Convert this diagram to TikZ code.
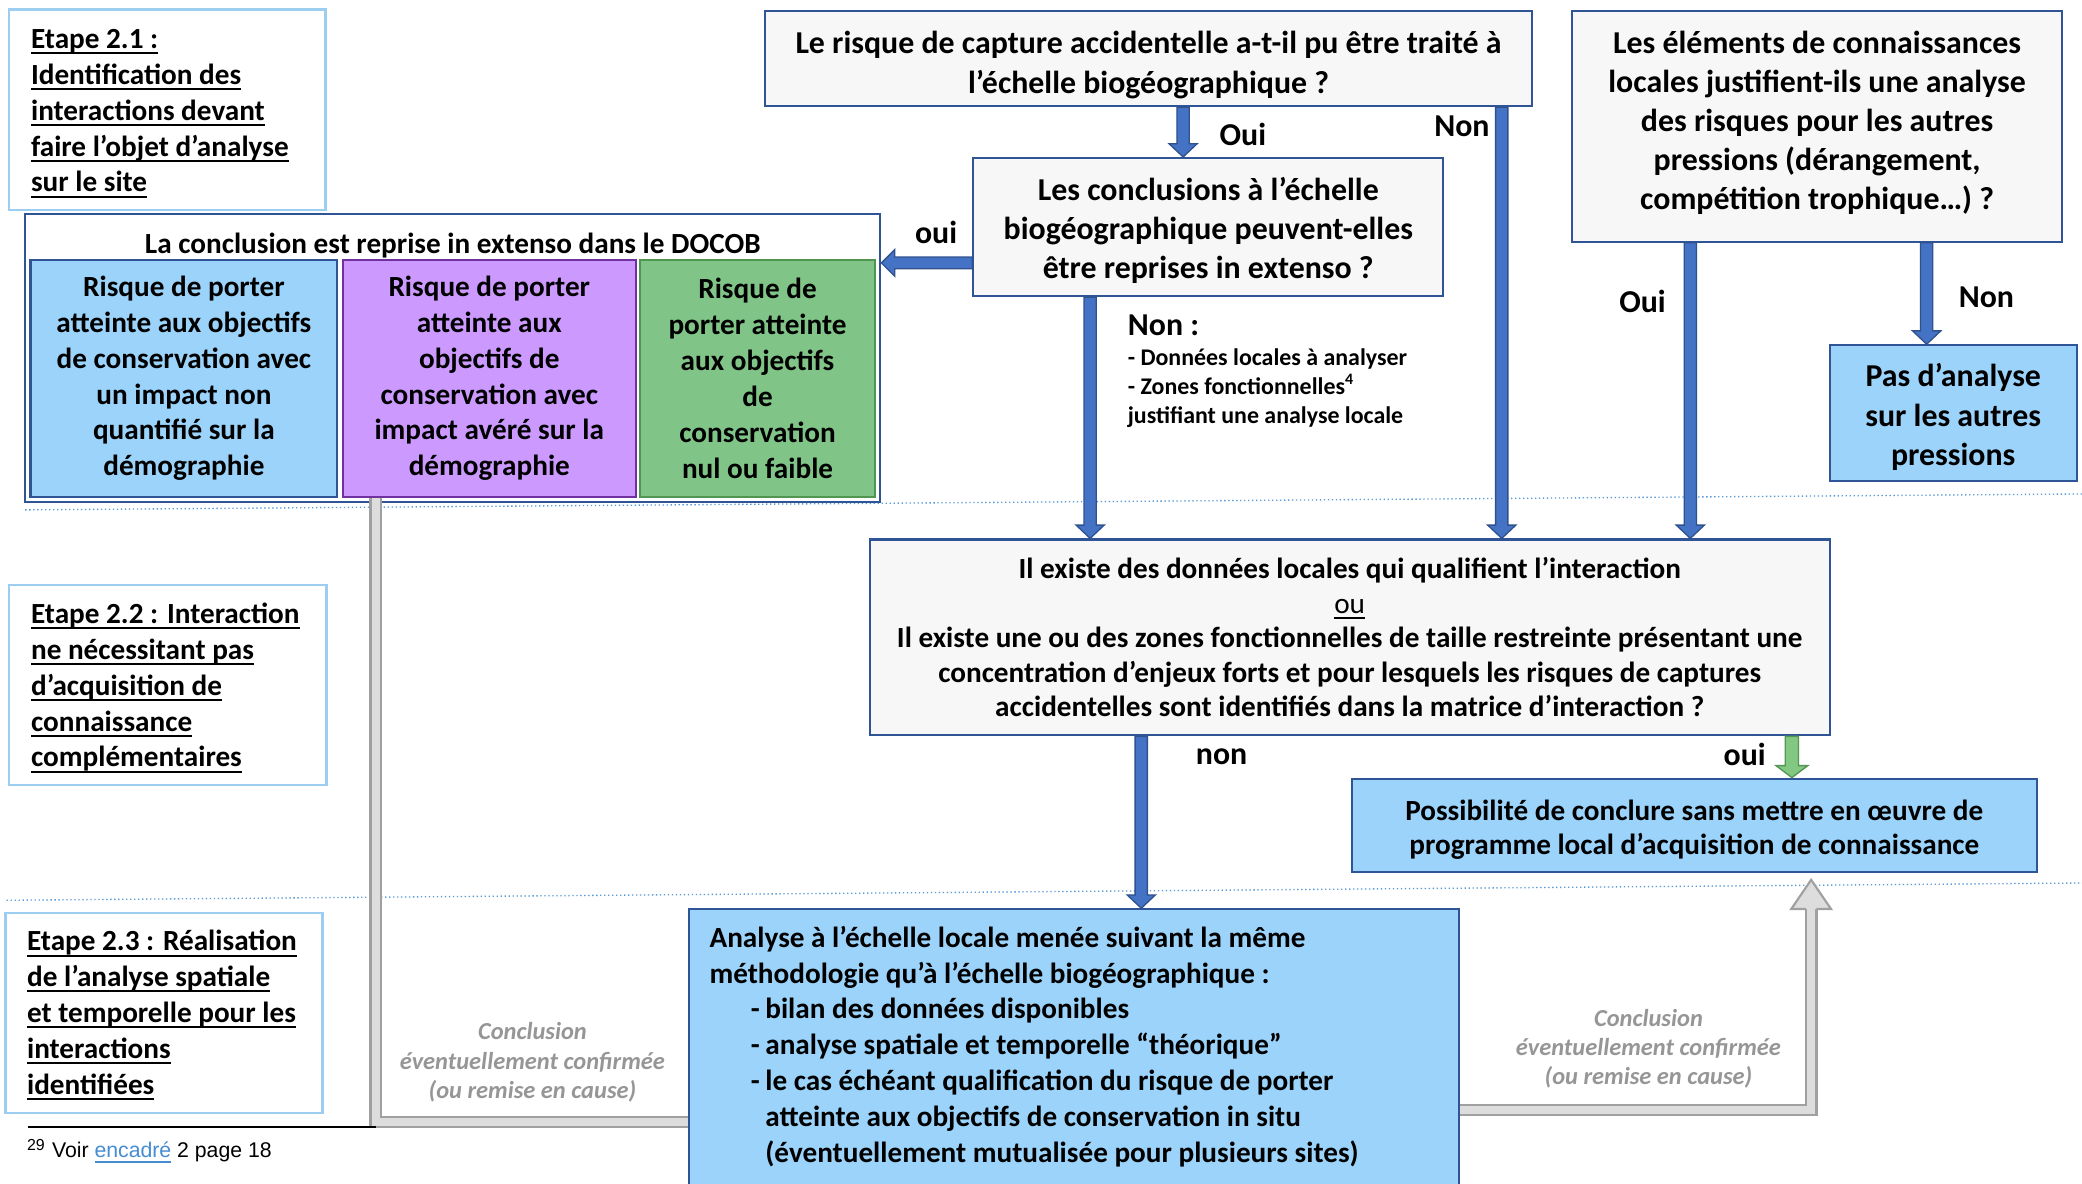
\documentclass[tikz,border=0pt]{standalone}
\usepackage{fontspec}
\setmainfont{Carlito}
\newfontfamily\arialfont{Liberation Sans}
\usetikzlibrary{calc}

\definecolor{qfill}{RGB}{247,247,247}
\definecolor{qborder}{RGB}{47,85,151}
\definecolor{lbfill}{RGB}{155,211,250}
\definecolor{purfill}{RGB}{204,153,255}
\definecolor{purborder}{RGB}{112,48,160}
\definecolor{grnfill}{RGB}{128,196,136}
\definecolor{grnborder}{RGB}{80,150,80}
\definecolor{etborder}{RGB}{157,205,240}
\definecolor{arrfill}{RGB}{68,114,196}
\definecolor{arrborder}{RGB}{47,82,143}
\definecolor{garrfill}{RGB}{130,199,130}
\definecolor{garrborder}{RGB}{84,150,84}
\definecolor{pipeedge}{RGB}{160,160,160}
\definecolor{pipefill}{RGB}{221,221,221}
\definecolor{graytext}{RGB}{150,150,150}
\definecolor{dotblue}{RGB}{91,155,213}
\definecolor{linkblue}{RGB}{70,140,210}

\newlength\ullen
\newcommand\uln[1]{\settowidth\ullen{#1}\rlap{\rule[-2.2pt]{\ullen}{0.75pt}}#1}
\newcommand\ulthin[1]{\settowidth\ullen{#1}\rlap{\rule[-2pt]{\ullen}{0.5pt}}#1}

\newlength\shw \newlength\hhw \newlength\hlen
\newcommand\bluesizes{\setlength\shw{2.3pt}\setlength\hhw{5.3pt}\setlength\hlen{5pt}}
\newcommand\greensizes{\setlength\shw{2.5pt}\setlength\hhw{6pt}\setlength\hlen{4.5pt}}

% vertical block arrow: style, x reference, start (top), end (tip, bottom)
\newcommand\arrowdown[4]{%
  \path[#1] let \p1=(#2), \p2=(#3), \p3=(#4) in
   (\x1-\shw,\y2) -- (\x1-\shw,\y3+\hlen) -- (\x1-\hhw,\y3+\hlen) -- (\x1,\y3)
   -- (\x1+\hhw,\y3+\hlen) -- (\x1+\shw,\y3+\hlen) -- (\x1+\shw,\y2) -- cycle;}
% horizontal block arrow pointing left: style, y reference, start (right), end (tip, left)
\newcommand\arrowleft[4]{%
  \path[#1] let \p1=(#2), \p2=(#3), \p3=(#4) in
   (\x2,\y1+\shw) -- (\x3+\hlen,\y1+\shw) -- (\x3+\hlen,\y1+\hhw) -- (\x3,\y1)
   -- (\x3+\hlen,\y1-\hhw) -- (\x3+\hlen,\y1-\shw) -- (\x2,\y1-\shw) -- cycle;}

\newcommand\fq{\fontsize{12}{14.75}\selectfont\bfseries}
\newcommand\fm{\fontsize{11}{13.5}\selectfont\bfseries}
\newcommand\fmid{\fontsize{11}{13}\selectfont\bfseries}
\newcommand\fs{\fontsize{9}{11}\selectfont\bfseries}

\begin{document}
\begin{tikzpicture}[x=0.5pt,y=-0.5pt,
  qbox/.style={draw=qborder, fill=qfill, line width=0.8pt, inner sep=0pt},
  lbbox/.style={draw=qborder, fill=lbfill, line width=0.8pt, inner sep=0pt},
  qtext/.style={align=center, inner sep=0pt, font=\fq},
  riskbox/.style={line width=0.8pt, align=center, inner sep=0pt, font=\fm, minimum height=89pt},
  etbox/.style={draw=etborder, fill=white, line width=0.9pt, inner sep=0pt},
  ettext/.style={anchor=west, align=left, inner sep=0pt, font=\fm},
  lab/.style={font=\fq, inner sep=0pt},
  gtext/.style={font=\fontsize{9.2}{11}\selectfont\bfseries\itshape, text=graytext, align=center, inner sep=0pt},
  dotline/.style={draw=dotblue, line width=0.5pt, densely dotted},
  bluearrow/.style={fill=arrfill, draw=arrborder, line width=0.5pt, line join=miter},
  greenarrow/.style={fill=garrfill, draw=garrborder, line width=0.5pt, line join=miter},
  graypipe/.style={draw=pipeedge, line width=0.8pt, double=pipefill, double distance=3.2pt, line join=miter},
]
\useasboundingbox (0,0) rectangle (1568,891);
\fill[white] (0,0) rectangle (1568,891);

% separator lines
\draw[dotline] (19,384) -- (1568,372);
\draw[dotline] (5,678) -- (1568,665);

% step boxes
\node[etbox, minimum width=119pt, minimum height=75.5pt] (e1) at (126,82.5) {};
\node[ettext] (e1t) at (23,85.5) {\uln{Etape 2.1 :}\\\uln{Identification des}\\\uln{interactions devant}\\\uln{faire l’objet d’analyse}\\\uln{sur le site}};
\node[etbox, minimum width=119.5pt, minimum height=75.25pt] (e2) at (126.5,515.75) {};
\node[ettext] (e2t) at (23,518) {\uln{Etape 2.2 : Interaction}\\\uln{ne nécessitant pas}\\\uln{d’acquisition de}\\\uln{connaissance}\\\uln{complémentaires}};
\node[etbox, minimum width=119.5pt, minimum height=75.25pt] (e3) at (123.5,762.75) {};
\node[ettext] (e3t) at (20,764.5) {\uln{Etape 2.3 : Réalisation}\\\uln{de l’analyse spatiale}\\\uln{et temporelle pour les}\\\uln{interactions}\\\uln{identifiées}};

% DOCOB group
\node[draw=qborder, fill=white, line width=0.8pt, minimum width=322pt, minimum height=108.5pt, inner sep=0pt] (docob) at (341,269.5) {};
\node[font=\fm, inner sep=0pt] (doctitle) at (341,185) {La conclusion est reprise in extenso dans le DOCOB};
\node[riskbox, draw=qborder, fill=lbfill, minimum width=115.5pt] (rblue) at (138.5,285) {Risque de porter\\atteinte aux objectifs\\de conservation avec\\un impact non\\quantifié sur la\\démographie};
\node[riskbox, draw=purborder, fill=purfill, minimum width=110.5pt] (rpur) at (368.5,285) {Risque de porter\\atteinte aux\\objectifs de\\conservation avec\\impact avéré sur la\\démographie};
\node[riskbox, draw=grnborder, fill=grnfill, minimum width=88.5pt] (rgrn) at (570.5,285) {Risque de\\porter atteinte\\aux objectifs\\de\\conservation\\nul ou faible};

% question boxes
\node[qbox, minimum width=289pt, minimum height=36pt] (q1) at (865,44) {};
\node[qtext] (q1t) at ([yshift=-2.5pt]q1.center) {Le risque de capture accidentelle a-t-il pu être traité à\\l’échelle biogéographique ?};
\node[qbox, minimum width=177pt, minimum height=52pt] (q2) at (910,171) {};
\node[qtext] (q2t) at ([yshift=-1.25pt]q2.center) {Les conclusions à l’échelle\\biogéographique peuvent-elles\\être reprises in extenso ?};
\node[qbox, minimum width=184.5pt, minimum height=87pt] (q3) at (1368.5,95) {};
\node[qtext] (q3t) at ([yshift=1.25pt]q3.center) {Les éléments de connaissances\\locales justifient-ils une analyse\\des risques pour les autres\\pressions (dérangement,\\compétition trophique…) ?};
\node[lbbox, minimum width=93pt, minimum height=51pt] (pas) at (1471,311) {};
\node[qtext] (past) at ([yshift=-1.5pt]pas.center) {Pas d’analyse\\sur les autres\\pressions};
\node[qbox, minimum width=361.5pt, minimum height=73.75pt] (mid) at (1016.5,480) {};
\node[qtext, font=\fmid] (midt) at (mid.center) {Il existe des données locales qui qualifient l’interaction\\{\mdseries\ulthin{ou}}\\Il existe une ou des zones fonctionnelles de taille restreinte présentant une\\concentration d’enjeux forts et pour lesquels les risques de captures\\accidentelles sont identifiés dans la matrice d’interaction ?};
\node[lbbox, minimum width=258pt, minimum height=35.2pt] (poss) at (1276,621.6) {};
\node[qtext, font=\fontsize{11}{12.7}\selectfont\bfseries] (posst) at ([yshift=-1.75pt]poss.center) {Possibilité de conclure sans mettre en œuvre de\\programme local d’acquisition de connaissance};
\node[lbbox, anchor=north west, minimum width=290pt, minimum height=120pt] (ana) at (518,684) {};
\node[anchor=north west, align=left, inner sep=0pt, font=\fm] (anatext) at (534,697) {Analyse à l’échelle locale menée suivant la même\\méthodologie qu’à l’échelle biogéographique :\\\makebox[21pt][l]{\hspace{15.5pt}-}bilan des données disponibles\\\makebox[21pt][l]{\hspace{15.5pt}-}analyse spatiale et temporelle “théorique”\\\makebox[21pt][l]{\hspace{15.5pt}-}le cas échéant qualification du risque de porter\\\hspace*{21pt}atteinte aux objectifs de conservation in situ\\\hspace*{21pt}(éventuellement mutualisée pour plusieurs sites)};

% x / y references for arrows
\coordinate (xA) at (891,0);
\coordinate (xB) at (1131,0);
\coordinate (xC) at (821,0);
\coordinate (xD) at (1273,0);
\coordinate (xE) at (1451,0);
\coordinate (xF) at (859.5,0);
\coordinate (xG) at (1349.5,0);
\coordinate (yA) at (0,198);

% blue arrows
\bluesizes
\arrowdown{bluearrow}{xA}{q1.south -| xA}{q2.north -| xA}
\arrowdown{bluearrow}{xB}{q1.south -| xB}{mid.north -| xB}
\arrowdown{bluearrow}{xC}{q2.south -| xC}{mid.north -| xC}
\arrowdown{bluearrow}{xD}{q3.south -| xD}{mid.north -| xD}
\arrowdown{bluearrow}{xE}{q3.south -| xE}{pas.north -| xE}
\arrowdown{bluearrow}{xF}{mid.south -| xF}{ana.north -| xF}
\setlength\shw{2.2pt}\setlength\hhw{5pt}\setlength\hlen{5pt}
\arrowleft{bluearrow}{yA}{q2.west |- yA}{docob.east |- yA}
\greensizes
\arrowdown{greenarrow}{xG}{mid.south -| xG}{poss.north -| xG}

% gray connectors
\coordinate (gl) at (283,845);
\coordinate (gr) at (1364,836);
\draw[graypipe] (rpur.south -| gl) -- (gl) -- (gl -| ana.west);
\coordinate (grtip) at ($(poss.south -| gr)+(0,5)$);
\coordinate (grbase) at ($(grtip)+(0,22)$);
\draw[graypipe] (ana.east |- gr) -- (gr) -- (grbase);
\fill[pipefill] ($(grbase)+(-2pt,0)$) -- ($(grbase)+(-7.5pt,0)$) -- (grtip) -- ($(grbase)+(7.5pt,0)$) -- ($(grbase)+(2pt,0)$) -- cycle;
\draw[pipeedge, line width=0.8pt, line join=miter] ($(grbase)+(-2pt,0)$) -- ($(grbase)+(-7.5pt,0)$) -- (grtip) -- ($(grbase)+(7.5pt,0)$) -- ($(grbase)+(2pt,0)$);

% labels
\node[lab] (lOui1) at (936,101) {Oui};
\node[lab] (lNon1) at (1101,95) {Non};
\node[lab] (loui2) at (705,175) {oui};
\node[lab] (lOui3) at (1237,227) {Oui};
\node[lab] (lNon3) at (1496,224) {Non};
\node[lab] (lnon4) at (920,570) {non};
\node[lab] (loui4) at (1314,568) {oui};
\node[lab, anchor=west] (lNon2) at (849,245) {Non :};
\node[anchor=north west, align=left, inner sep=0pt, font=\fs] (nonlist) at (849,262) {- Données locales à analyser\\- Zones fonctionnelles\textsuperscript{4}\\justifiant une analyse locale};

\node[gtext] (gt1) at (401,800) {Conclusion\\éventuellement confirmée\\(ou remise en cause)};
\node[gtext] (gt2) at (1241.5,790) {Conclusion\\éventuellement confirmée\\(ou remise en cause)};

% footnote
\coordinate (fn) at (21,849);
\draw[black, line width=0.7pt] (fn) -- (fn -| gl);
\node[anchor=west, inner sep=0pt, font=\arialfont\fontsize{8}{9.5}\selectfont] (fntext) at (20,867) {\textsuperscript{29} Voir \textcolor{linkblue}{\uln{encadré}} 2 page 18};
\end{tikzpicture}
\end{document}
